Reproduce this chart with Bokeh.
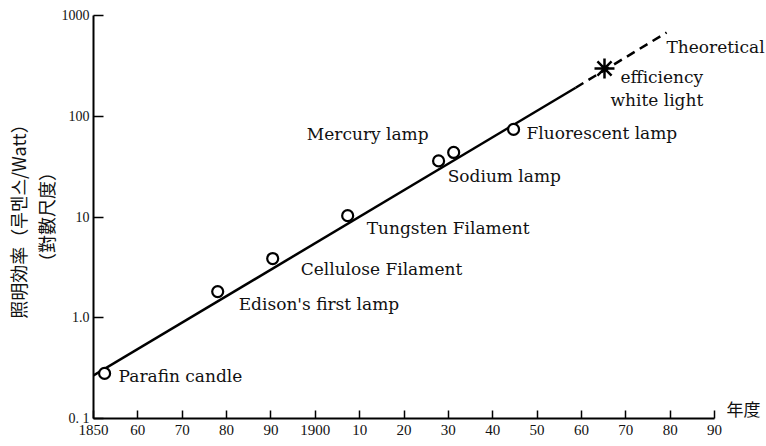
from bokeh.plotting import figure
from bokeh.models import ColumnDataSource, FixedTicker, Title, Label
from bokeh.embed import file_html
from bokeh.resources import INLINE

# ---- data ----
point_labels = ["Parafin candle", "Edison's first lamp", "Cellulose Filament",
                "Tungsten Filament", "Mercury lamp", "Sodium lamp", "Fluorescent lamp"]
point_years = [1852.5, 1878, 1890.4, 1907.3, 1927.8, 1931.2, 1944.7]
point_eff = [0.28, 1.82, 3.87, 10.3, 36, 43.7, 74]

theory_year = [1965.2]
theory_eff = [298]
theory_text = ["Theoretical", "efficiency", "white light"]

trend_solid_years = [1850, 1958.7]
trend_solid_eff = [0.267, 192]
trend_dash_years = [1958.7, 1979.2]
trend_dash_eff = [192, 678]

x_ticks = [1850, 1860, 1870, 1880, 1890, 1900, 1910, 1920, 1930, 1940, 1950, 1960, 1970, 1980, 1990]
x_tick_labels = ["1850", "60", "70", "80", "90", "1900", "10", "20", "30", "40", "50", "60", "70", "80", "90"]
y_ticks = [0.1, 1, 10, 100, 1000]
y_tick_labels = ["0. 1", "1.0", "10", "100", "1000"]

y_title = "照明効率（루멘스/Watt）"
y_subtitle = "（對數尺度）"
x_unit = "年度"

# ---- layout / style ----
label_dx = [14, 21, 28, 19, -10, -6, 13]      # pixel offsets, y down
label_dy = [3, 12, 10, 12, -27, 24, 4]
theory_dx = [62, 16, 6]
theory_dy = [-21, 9, 32]

SERIF = "DejaVu Serif"
TICKFONT = "Liberation Serif"
INK = "#111111"

FRAME_W = 766 - 93                     # frame runs to the right edge; axis drawn only to 1990
x_end = x_ticks[0] + (x_ticks[-1] - x_ticks[0]) * FRAME_W / (714 - 93)

p = figure(width=766, height=446, x_range=(x_ticks[0], x_end), y_range=(y_ticks[0], y_ticks[-1]),
           y_axis_type="log", output_backend="svg", toolbar_location=None,
           min_border_left=93, min_border_right=0, min_border_top=15, min_border_bottom=28)
p.background_fill_color = "white"
p.border_fill_color = "white"
p.outline_line_color = None
p.grid.visible = False

# axes
for ax in (p.xaxis[0], p.yaxis[0]):
    ax.axis_line_width = 2
    ax.axis_line_color = "black"
    ax.major_tick_line_color = "black"
    ax.minor_tick_line_color = None
    ax.major_tick_out = 0
    ax.major_label_text_font = TICKFONT
    ax.major_label_text_color = INK

p.xaxis[0].ticker = FixedTicker(ticks=x_ticks)
p.xaxis[0].bounds = (x_ticks[0], x_ticks[-1])
p.xaxis[0].major_label_overrides = {t: l for t, l in zip(x_ticks, x_tick_labels)}
p.xaxis[0].major_label_text_font_size = "15px"
p.xaxis[0].major_tick_in = 8
p.xaxis[0].major_tick_line_width = 1.5
p.xaxis[0].major_label_standoff = 6

p.yaxis[0].ticker = FixedTicker(ticks=y_ticks)
p.yaxis[0].major_label_overrides = {t: l for t, l in zip(y_ticks, y_tick_labels)}
p.yaxis[0].major_label_text_font_size = "14px"
p.yaxis[0].major_tick_in = 10
p.yaxis[0].major_tick_line_width = 1.5
p.yaxis[0].major_label_standoff = 4

# y-axis titles (two lines)
t2 = Title(text=y_subtitle, align="center", text_font="Noto Sans CJK KR",
           text_font_size="18px", text_font_style="normal", text_color=INK,
           standoff=0, offset=0)
t1 = Title(text=y_title, align="center", text_font="Noto Sans CJK KR",
           text_font_size="18px", text_font_style="normal", text_color=INK,
           standoff=0, offset=0)
p.add_layout(t2, "left")
p.add_layout(t1, "left")

# trend line
p.line(trend_solid_years, trend_solid_eff, line_color="black", line_width=2.5)
p.line(trend_dash_years, trend_dash_eff, line_color="black", line_width=2.5, line_dash="9 6")

# points
src = ColumnDataSource(dict(x=point_years, y=point_eff))
p.scatter("x", "y", source=src, marker="circle", size=11, fill_color="white",
          line_color="black", line_width=2.2)
p.scatter(theory_year, theory_eff, marker="asterisk", size=20, line_color="black", line_width=2.5)

# point labels
for i, txt in enumerate(point_labels):
    p.add_layout(Label(x=point_years[i], y=point_eff[i], text=txt,
                       x_offset=label_dx[i], y_offset=-label_dy[i],
                       text_font=SERIF, text_font_size="17px", text_color=INK,
                       text_align="right" if label_dx[i] < 0 and label_dy[i] < 0 else "left",
                       text_baseline="middle"))

for txt, dx, dy in zip(theory_text, theory_dx, theory_dy):
    p.add_layout(Label(x=theory_year[0], y=theory_eff[0], text=txt,
                       x_offset=dx, y_offset=-dy,
                       text_font=SERIF, text_font_size="17px", text_color=INK,
                       text_align="left", text_baseline="middle"))

# x unit label
p.add_layout(Label(x=x_ticks[-1], y=y_ticks[0], text=x_unit, x_offset=12, y_offset=10,
                   text_font="Noto Sans CJK KR", text_font_size="17px", text_color=INK,
                   text_align="left", text_baseline="middle"))

open("out.html", "w").write(file_html(p, INLINE))
